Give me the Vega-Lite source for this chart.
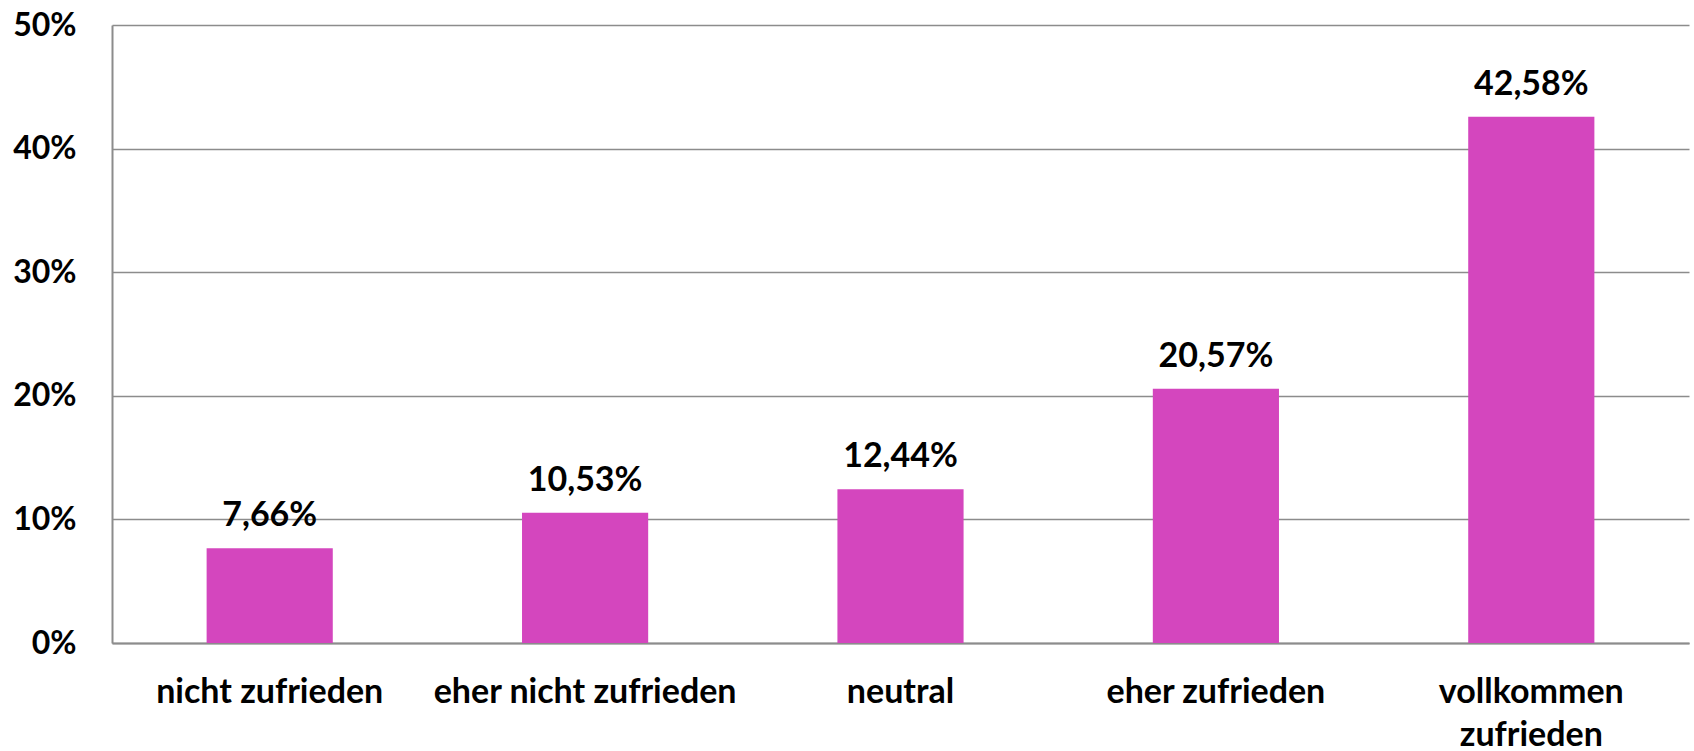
{
  "$schema": "https://vega.github.io/schema/vega-lite/v6.json",
  "autosize": "none",
  "width": 1577,
  "height": 618,
  "padding": {"left": 112, "top": 25, "right": 5, "bottom": 108},
  "background": "white",
  "config": {
    "view": {"stroke": null},
    "font": "Lato"
  },
  "data": {
    "values": [
      {"kategorie": "nicht zufrieden", "anteil": 0.0766, "text": "7,66%"},
      {"kategorie": "eher nicht zufrieden", "anteil": 0.1053, "text": "10,53%"},
      {"kategorie": "neutral", "anteil": 0.1244, "text": "12,44%"},
      {"kategorie": "eher zufrieden", "anteil": 0.2057, "text": "20,57%"},
      {"kategorie": "vollkommen zufrieden", "anteil": 0.4258, "text": "42,58%"}
    ]
  },
  "encoding": {
    "x": {
      "field": "kategorie",
      "type": "nominal",
      "sort": null,
      "scale": {"paddingInner": 0.6, "paddingOuter": 0.3},
      "axis": {
        "title": null,
        "labelAngle": 0,
        "labelFont": "Lato",
        "labelFontSize": 34,
        "labelFontWeight": "bold",
        "labelColor": "#000000",
        "labelPadding": 59,
        "labelLineHeight": 43,
        "labelLimit": 0,
        "labelBaseline": "alphabetic",
        "labelExpr": "datum.label == 'vollkommen zufrieden' ? ['vollkommen', 'zufrieden'] : datum.label",
        "ticks": false,
        "domainColor": "#8c8c8c",
        "domainWidth": 2,
        "grid": false
      }
    },
    "y": {
      "field": "anteil",
      "type": "quantitative",
      "scale": {"domain": [0, 0.5]},
      "axis": {
        "title": null,
        "format": ".0%",
        "values": [0, 0.1, 0.2, 0.3, 0.4, 0.5],
        "labelFont": "Lato",
        "labelFontSize": 32,
        "labelFontWeight": "bold",
        "labelColor": "#000000",
        "labelPadding": 36,
        "ticks": false,
        "domainColor": "#8c8c8c",
        "domainWidth": 2,
        "grid": true,
        "gridColor": "#8c8c8c",
        "gridWidth": 1.5
      }
    }
  },
  "layer": [
    {"mark": {"type": "bar", "color": "#D446BE"}},
    {
      "mark": {"type": "text", "font": "Lato", "fontSize": 34, "fontWeight": "bold", "color": "#000000", "baseline": "alphabetic", "dy": -22},
      "encoding": {"text": {"field": "text"}}
    }
  ]
}
